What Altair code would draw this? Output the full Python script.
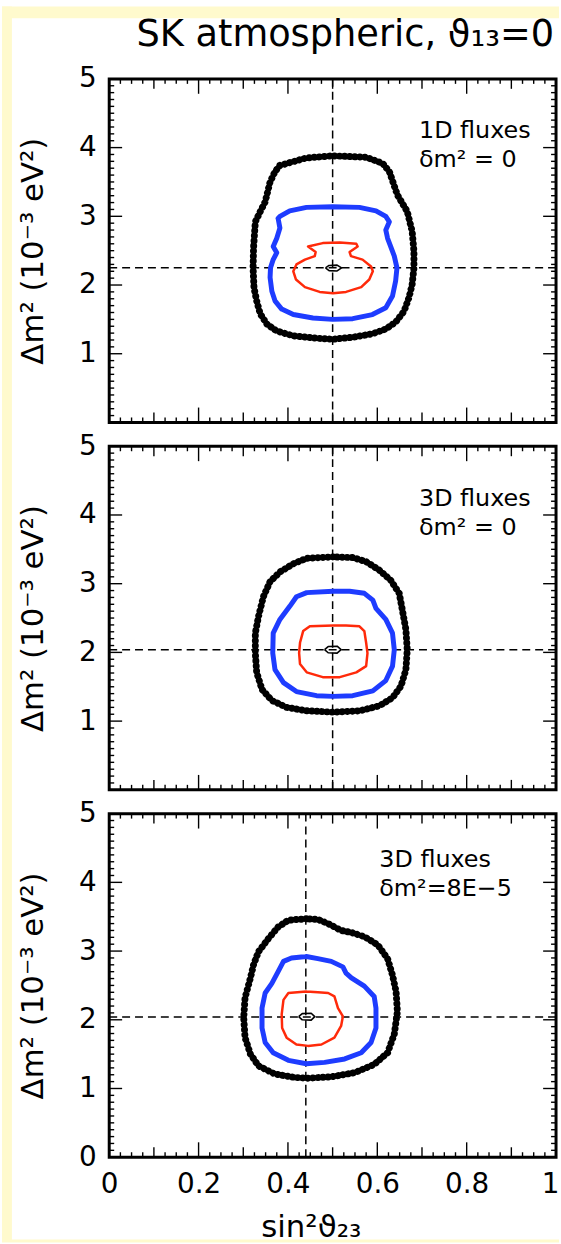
import altair as alt
import pandas as pd

FONT = "DejaVu Sans"
YELLOW = "#FFFACD"
BLUE = "#1E3CFF"
RED = "#FF2A0A"

W, H = 450, 346

TITLE = "SK atmospheric, ϑ₁₃=0"
Y_TITLE = "Δm²  (10⁻³ eV²)"
X_TITLE = "sin²ϑ₂₃"

X_LABELS = [0, 0.2, 0.4, 0.6, 0.8, 1]
Y_LABELS_TOP = [1, 2, 3, 4, 5]
Y_LABELS_BOTTOM = [0, 1, 2, 3, 4, 5]

X_MAJOR = [0.2, 0.4, 0.6, 0.8]
X_MID = [0.1, 0.3, 0.5, 0.7, 0.9]
X_MINOR = [round(i * 0.025, 3) for i in range(1, 40) if i % 4]
Y_MAJOR = [1, 2, 3, 4]
Y_MINOR = [round(i * 0.1, 1) for i in range(1, 50) if i % 10]

# ---------------- panel 1: 1D fluxes, dm2 = 0
P1_LABEL = ["1D fluxes", "δm² = 0"]
P1_BEST = (0.50, 2.25)
P1_BLACK = [(0.382, 3.74), (0.4415, 3.85), (0.50, 3.88), (0.575, 3.86), (0.612, 3.77),
            (0.627, 3.65), (0.645, 3.31), (0.667, 3.07), (0.678, 2.78), (0.682, 2.49),
            (0.682, 2.25), (0.678, 2.01), (0.671, 1.82), (0.660, 1.62), (0.641, 1.46),
            (0.619, 1.36), (0.589, 1.29), (0.545, 1.24), (0.50, 1.21), (0.456, 1.23),
            (0.412, 1.26), (0.375, 1.33), (0.353, 1.43), (0.338, 1.58), (0.330, 1.77),
            (0.324, 1.96), (0.322, 2.25), (0.323, 2.54), (0.327, 2.92), (0.338, 3.07),
            (0.349, 3.21), (0.360, 3.50), (0.371, 3.65)]
P1_BLUE = [(0.378, 2.97), (0.382, 2.83), (0.375, 2.68), (0.367, 2.56), (0.375, 2.47),
           (0.367, 2.37), (0.361, 2.25), (0.360, 2.11), (0.364, 1.91), (0.371, 1.77),
           (0.386, 1.65), (0.412, 1.57), (0.456, 1.52), (0.50, 1.50), (0.545, 1.51),
           (0.589, 1.57), (0.619, 1.67), (0.634, 1.84), (0.641, 2.06), (0.644, 2.25),
           (0.638, 2.42), (0.630, 2.56), (0.623, 2.68), (0.619, 2.80), (0.627, 2.92),
           (0.619, 3.00), (0.597, 3.08), (0.560, 3.13), (0.50, 3.14), (0.4415, 3.13),
           (0.404, 3.08), (0.382, 3.00)]
P1_RED = [(0.445, 2.56), (0.478, 2.61), (0.516, 2.62), (0.553, 2.60), (0.556, 2.56),
          (0.538, 2.48), (0.541, 2.42), (0.567, 2.37), (0.586, 2.27), (0.590, 2.20),
          (0.582, 2.08), (0.564, 1.97), (0.530, 1.90), (0.501, 1.88), (0.471, 1.90),
          (0.438, 1.97), (0.418, 2.08), (0.412, 2.20), (0.419, 2.30), (0.438, 2.37),
          (0.460, 2.42), (0.462, 2.48)]
P1_CORE = [(0.484, 2.25), (0.492, 2.285), (0.510, 2.29), (0.520, 2.25), (0.510, 2.205),
           (0.492, 2.21)]

# ---------------- panel 2: 3D fluxes, dm2 = 0
P2_LABEL = ["3D fluxes", "δm² = 0"]
P2_BEST = (0.50, 2.04)
P2_BLACK = [(0.501, 3.39), (0.442, 3.37), (0.412, 3.29), (0.382, 3.17), (0.360, 3.03),
            (0.345, 2.81), (0.334, 2.52), (0.327, 2.28), (0.327, 1.99), (0.330, 1.71),
            (0.342, 1.46), (0.364, 1.30), (0.397, 1.20), (0.442, 1.15), (0.501, 1.13),
            (0.560, 1.15), (0.604, 1.22), (0.634, 1.34), (0.653, 1.51), (0.664, 1.75),
            (0.667, 2.04), (0.664, 2.33), (0.656, 2.62), (0.649, 2.86), (0.630, 3.05),
            (0.604, 3.20), (0.575, 3.32), (0.545, 3.38)]
P2_BLUE = [(0.501, 2.89), (0.442, 2.87), (0.419, 2.81), (0.404, 2.67), (0.382, 2.48),
           (0.367, 2.28), (0.366, 1.99), (0.371, 1.75), (0.390, 1.56), (0.419, 1.43),
           (0.464, 1.37), (0.501, 1.36), (0.545, 1.37), (0.590, 1.44), (0.619, 1.59),
           (0.634, 1.80), (0.638, 2.04), (0.634, 2.28), (0.619, 2.48), (0.597, 2.64),
           (0.590, 2.76), (0.571, 2.86), (0.538, 2.89)]
P2_RED = [(0.501, 2.39), (0.449, 2.38), (0.434, 2.31), (0.427, 2.14), (0.425, 1.99),
          (0.427, 1.83), (0.442, 1.71), (0.478, 1.64), (0.516, 1.64), (0.553, 1.71),
          (0.575, 1.80), (0.578, 1.99), (0.575, 2.14), (0.571, 2.31), (0.560, 2.38),
          (0.530, 2.39)]
P2_CORE = [(0.482, 2.04), (0.490, 2.085), (0.510, 2.09), (0.519, 2.04), (0.510, 1.99),
           (0.490, 1.995)]

# ---------------- panel 3: 3D fluxes, dm2 = 8E-5
P3_LABEL = ["3D fluxes", "δm²=8E−5"]
P3_BEST = (0.44, 2.04)
P3_BLACK = [(0.441, 3.47), (0.401, 3.45), (0.378, 3.35), (0.356, 3.18), (0.334, 2.99),
            (0.323, 2.80), (0.316, 2.61), (0.304, 2.32), (0.301, 2.03), (0.304, 1.74),
            (0.316, 1.50), (0.334, 1.33), (0.371, 1.21), (0.416, 1.16), (0.445, 1.15),
            (0.497, 1.17), (0.549, 1.23), (0.593, 1.35), (0.623, 1.52), (0.638, 1.79),
            (0.645, 2.12), (0.642, 2.41), (0.634, 2.65), (0.623, 2.89), (0.601, 3.09),
            (0.571, 3.21), (0.542, 3.27), (0.519, 3.30), (0.490, 3.40), (0.467, 3.46)]
P3_BLUE = [(0.441, 2.92), (0.408, 2.90), (0.390, 2.85), (0.378, 2.70), (0.364, 2.53),
           (0.349, 2.39), (0.342, 2.17), (0.342, 1.88), (0.349, 1.67), (0.367, 1.52),
           (0.401, 1.41), (0.441, 1.36), (0.482, 1.38), (0.527, 1.43), (0.564, 1.52),
           (0.586, 1.67), (0.597, 1.88), (0.597, 2.17), (0.593, 2.34), (0.571, 2.49),
           (0.542, 2.61), (0.530, 2.68), (0.523, 2.77), (0.497, 2.85), (0.467, 2.89)]
P3_RED = [(0.441, 2.41), (0.401, 2.39), (0.390, 2.29), (0.386, 2.08), (0.387, 1.88),
          (0.397, 1.74), (0.419, 1.64), (0.445, 1.62), (0.475, 1.64), (0.504, 1.74),
          (0.519, 1.91), (0.523, 2.05), (0.512, 2.17), (0.504, 2.34), (0.490, 2.39),
          (0.467, 2.40)]
P3_CORE = [(0.424, 2.045), (0.432, 2.09), (0.452, 2.095), (0.460, 2.045), (0.452, 1.995),
           (0.432, 2.0)]


def closed(pts):
    pts = list(pts) + [pts[0]]
    return pd.DataFrame({"x": [p[0] for p in pts], "y": [p[1] for p in pts],
                         "i": list(range(len(pts)))})


def make_panel(black, blue, red, core, best, label, y_labels, bottom, top):
    common = dict(ticks=False, tickSize=0, domain=False, grid=False,
                  labelFont=FONT, labelColor="black", titleFont=FONT,
                  titleColor="black", titleFontWeight="normal")
    yaxis = alt.Axis(values=y_labels, labelFontSize=28, labelPadding=13,
                     title=Y_TITLE, titleFontSize=31, titleAngle=270,
                     titleX=-76, titleY=H / 2, titleAlign="center",
                     titleBaseline="middle", **common)
    if bottom:
        xaxis = alt.Axis(values=X_LABELS, format="~g", labelFontSize=28,
                         labelPadding=14, labelFlush=False,
                         labelAlign={"condition": {"test": "datum.value >= 1", "value": "right"},
                                     "value": "center"},
                         labelOffset={"condition": {"test": "datum.value >= 1", "value": 3},
                                      "value": 0},
                         title=X_TITLE, titleFontSize=31, titleX=203, titleY=80,
                         titleAlign="center", titleBaseline="alphabetic", **common)
    else:
        xaxis = None

    def X(f):
        return alt.X(f, type="quantitative", axis=xaxis,
                     scale=alt.Scale(domain=[0, 1], nice=False, zero=False))

    def Y(f):
        return alt.Y(f, type="quantitative", axis=yaxis,
                     scale=alt.Scale(domain=[0, 5], nice=False, zero=False))

    layers = []
    # inward ticks on all four sides
    for vals, ln in ((X_MAJOR, 15), (X_MID, 10), (X_MINOR, 5)):
        d = pd.DataFrame({"x": vals})
        layers.append(alt.Chart(d).mark_rule(color="black", strokeWidth=1.4).encode(
            x=X("x"), y=alt.value(0), y2=alt.value(ln)))
        layers.append(alt.Chart(d).mark_rule(color="black", strokeWidth=1.4).encode(
            x=X("x"), y=alt.value(H), y2=alt.value(H - ln)))
    for vals, ln in ((Y_MAJOR, 13), (Y_MINOR, 5)):
        d = pd.DataFrame({"y": vals})
        layers.append(alt.Chart(d).mark_rule(color="black", strokeWidth=1.4).encode(
            y=Y("y"), x=alt.value(0), x2=alt.value(ln)))
        layers.append(alt.Chart(d).mark_rule(color="black", strokeWidth=1.4).encode(
            y=Y("y"), x=alt.value(W), x2=alt.value(W - ln)))

    # best-fit cross hair
    bx = pd.DataFrame({"x": [best[0]]})
    by = pd.DataFrame({"y": [best[1]]})
    layers.append(alt.Chart(bx).mark_rule(color="black", strokeWidth=1.5,
                                          strokeDash=[8, 5]).encode(x=X("x")))
    layers.append(alt.Chart(by).mark_rule(color="black", strokeWidth=1.5,
                                          strokeDash=[8, 5]).encode(y=Y("y")))

    # contours
    layers.append(alt.Chart(closed(black)).mark_line(
        color="black", strokeWidth=7, strokeDash=[0.1, 5], strokeCap="round",
        strokeJoin="round").encode(x=X("x"), y=Y("y"), order="i:Q"))
    layers.append(alt.Chart(closed(blue)).mark_line(
        color=BLUE, strokeWidth=5, strokeCap="round", strokeJoin="round").encode(
        x=X("x"), y=Y("y"), order="i:Q"))
    layers.append(alt.Chart(closed(red)).mark_line(
        color=RED, strokeWidth=2.5, strokeCap="round", strokeJoin="round").encode(
        x=X("x"), y=Y("y"), order="i:Q"))
    layers.append(alt.Chart(closed(core)).mark_line(
        color="black", strokeWidth=1.6, strokeJoin="round").encode(
        x=X("x"), y=Y("y"), order="i:Q"))

    # annotation text
    lab = pd.DataFrame({"t": label, "row": [0, 1]})
    lx = 312 if not bottom else 272
    ly0 = 53 if not bottom else 47
    for k in range(2):
        layers.append(alt.Chart(lab.iloc[[k]]).mark_text(
            align="left", baseline="middle", fontSize=24, font=FONT, color="black"
        ).encode(x=alt.value(lx), y=alt.value(ly0 + 29 * k), text="t:N"))

    # page decoration (yellow margin strips) and the main title
    deco = pd.DataFrame({"k": [0]})
    if top:
        layers.append(alt.Chart(deco).mark_rect(color=YELLOW).encode(
            x=alt.value(-108), x2=alt.value(-98), y=alt.value(-73), y2=alt.value(1171)))
        layers.append(alt.Chart(deco).mark_rect(color=YELLOW).encode(
            x=alt.value(-108), x2=alt.value(453), y=alt.value(-73), y2=alt.value(-61)))
        tt = pd.DataFrame({"t": [TITLE]})
        layers.append(alt.Chart(tt).mark_text(
            align="right", baseline="alphabetic", fontSize=37, font=FONT, color="black"
        ).encode(x=alt.value(448), y=alt.value(-33), text="t:N"))
    if bottom:
        layers.append(alt.Chart(deco).mark_rect(color=YELLOW).encode(
            x=alt.value(-108), x2=alt.value(453), y=alt.value(429), y2=alt.value(432)))

    return alt.layer(*layers).properties(width=W, height=H)


p1 = make_panel(P1_BLACK, P1_BLUE, P1_RED, P1_CORE, P1_BEST, P1_LABEL, Y_LABELS_TOP, False, True)
p2 = make_panel(P2_BLACK, P2_BLUE, P2_RED, P2_CORE, P2_BEST, P2_LABEL, Y_LABELS_TOP, False, False)
p3 = make_panel(P3_BLACK, P3_BLUE, P3_RED, P3_CORE, P3_BEST, P3_LABEL, Y_LABELS_BOTTOM, True, False)

chart = alt.vconcat(p1, p2, p3, spacing=24, bounds="flush").properties(
    padding={"left": 0, "top": 0, "right": 0, "bottom": 0}
).configure(background="white").configure_view(
    stroke="black", strokeWidth=3, fill="white"
)

chart.save("out.html", embed_options={"renderer": "svg", "actions": False})
